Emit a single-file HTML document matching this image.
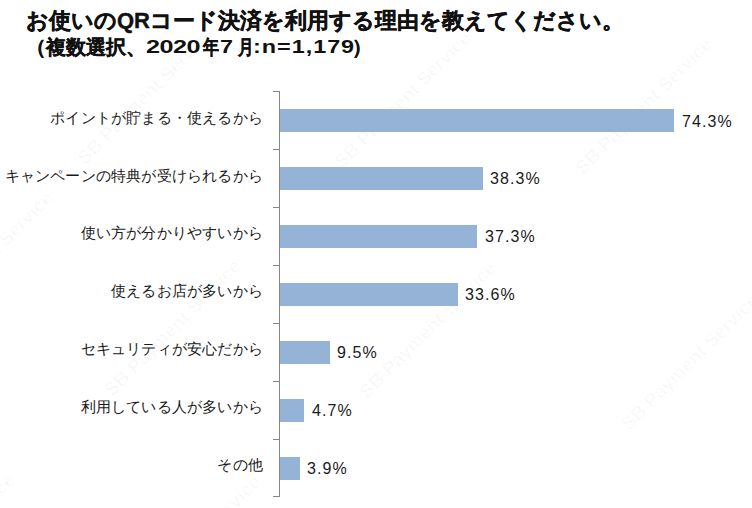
<!DOCTYPE html>
<html lang="ja"><head><meta charset="utf-8">
<style>
html,body{margin:0;padding:0;background:#fff;}
body{width:752px;height:508px;position:relative;overflow:hidden;font-family:"Liberation Sans",sans-serif;color:#1a1a1a;}
.t{position:absolute;white-space:nowrap;}
#title{left:26px;top:6px;font-size:22px;font-weight:bold;line-height:30px;color:#111;-webkit-text-stroke:0.4px #111;}
#sub,.sc{left:26px;top:33px;font-size:20px;font-weight:bold;line-height:28px;color:#111;-webkit-text-stroke:0.35px #111;}
.sl{top:33px;font-size:18px;font-weight:bold;line-height:28px;color:#111;letter-spacing:0.3px;transform:scaleX(1.3);transform-origin:0 0;}
.axis{position:absolute;left:279px;top:91px;width:1px;height:406px;background:#868686;}
.tick{position:absolute;left:273px;width:6px;height:1px;background:#868686;}
.bar{position:absolute;left:280px;height:23px;background:#95b3d7;}
.lab{position:absolute;right:489px;font-size:15px;line-height:20px;margin-top:-3px;letter-spacing:0.2px;text-align:right;white-space:nowrap;}
.val{position:absolute;font-size:16px;line-height:20px;margin-top:1px;letter-spacing:1.1px;white-space:nowrap;}
</style></head><body>
<svg class="wm" width="752" height="508" style="position:absolute;left:0;top:0">
<g font-family="Liberation Sans, sans-serif" font-size="19" font-weight="bold" fill="#000" fill-opacity="0.028" text-anchor="middle">
<text transform="translate(403,100) rotate(-45)" dy="6">SB Payment Service</text>
<text transform="translate(644,106) rotate(-45)" dy="6">SB Payment Service</text>
<text transform="translate(173,328) rotate(-45)" dy="6">SB Payment Service</text>
<text transform="translate(690,362) rotate(-45)" dy="6">SB Payment Service</text>
<text transform="translate(-15,260) rotate(-45)" dy="6">SB Payment Service</text>
<text transform="translate(146,96) rotate(-45)" dy="6">SB Payment Service</text>
<text transform="translate(428,330) rotate(-45)" dy="6">SB Payment Service</text>
<text transform="translate(-53,542) rotate(-45)" dy="6">SB Payment Service</text>
<text transform="translate(193,544) rotate(-45)" dy="6">SB Payment Service</text>
</g></svg>
<div id="title" class="t">お使いのQRコード決済を利用する理由を教えてください。</div>
<div id="sub" class="t">（複数選択、</div>
<div class="t sl" style="left:146px;transform:scaleX(1.4);letter-spacing:-0.35px">2020</div>
<div class="t sc" style="left:203px;transform:scaleX(0.8);transform-origin:0 0">年</div>
<div class="t sl" style="left:220px">7</div>
<div class="t sc" style="left:238px;transform:scaleX(0.78);transform-origin:0 0">月</div>
<div class="t sl" style="left:253px;letter-spacing:0.75px">:n=1,179</div>
<div class="t sc" style="left:352px">）</div>
<div class="axis"></div>
<div class="tick" style="top:91px"></div>
<div class="tick" style="top:149px"></div>
<div class="tick" style="top:207px"></div>
<div class="tick" style="top:265px"></div>
<div class="tick" style="top:323px"></div>
<div class="tick" style="top:381px"></div>
<div class="tick" style="top:439px"></div>
<div class="tick" style="top:496px"></div>

<div class="bar" style="top:109px;width:394px"></div>
<div class="bar" style="top:167px;width:203px"></div>
<div class="bar" style="top:225px;width:197px"></div>
<div class="bar" style="top:283px;width:178px"></div>
<div class="bar" style="top:341px;width:50px"></div>
<div class="bar" style="top:399px;width:24px"></div>
<div class="bar" style="top:457px;width:20px"></div>

<div class="lab" style="top:111px">ポイントが貯まる・使えるから</div>
<div class="lab" style="top:169px">キャンペーンの特典が受けられるから</div>
<div class="lab" style="top:226px">使い方が分かりやすいから</div>
<div class="lab" style="top:284px">使えるお店が多いから</div>
<div class="lab" style="top:342px">セキュリティが安心だから</div>
<div class="lab" style="top:400px">利用している人が多いから</div>
<div class="lab" style="top:458px">その他</div>

<div class="val" style="left:682px;top:111px">74.3%</div>
<div class="val" style="left:490px;top:168px">38.3%</div>
<div class="val" style="left:485px;top:226px">37.3%</div>
<div class="val" style="left:465px;top:284px">33.6%</div>
<div class="val" style="left:337px;top:342px">9.5%</div>
<div class="val" style="left:312px;top:400px">4.7%</div>
<div class="val" style="left:307px;top:458px">3.9%</div>
</body></html>
